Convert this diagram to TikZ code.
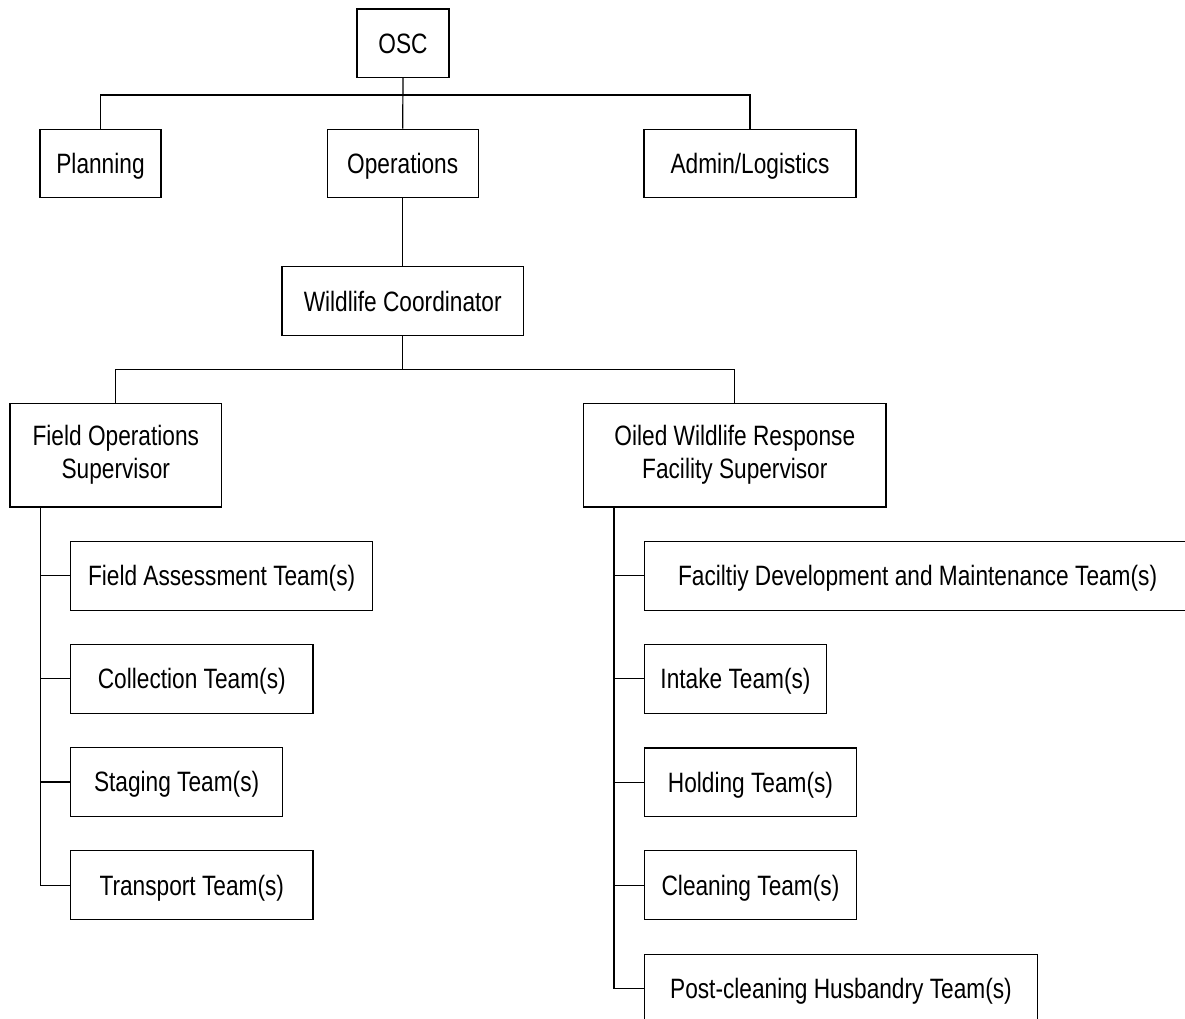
\documentclass[tikz,border=0pt]{standalone}
\usepackage{fontspec}
\setmainfont[FakeStretch=0.81]{Liberation Sans}
\usetikzlibrary{calc}
\begin{document}
\begin{tikzpicture}[x=1pt,y=-1pt,line width=1.2pt,
  box/.style={draw, rectangle, inner sep=0pt, minimum height=68.6pt,
    font=\fontsize{28}{33}\selectfont, text height=20pt, text depth=0pt},
  boxtwo/.style={draw, rectangle, inner sep=0pt, minimum height=103.5pt,
    align=center, font=\fontsize{28}{33}\selectfont},
  wire/.style={draw, line width=1.2pt}]
\useasboundingbox (0,0) rectangle (1185,1018);
\clip (0,0) rectangle (1185,1018);

% top level
\node[box, minimum width=92pt] (osc) at (403,43.3) {OSC};
\node[box, minimum width=121pt] (plan) at (100.5,163.5) {Planning};
\node[box, minimum width=151pt] (ops) at (402.7,163.5) {Operations};
\node[box, minimum width=212pt] (admin) at (750,163.5) {Admin/Logistics};
\node[box, minimum width=241.6pt] (wc) at (402.7,301) {Wildlife Coordinator};

% supervisors
\node[boxtwo, minimum width=211.7pt] (fos) at (115.8,455.2) {Field Operations\\Supervisor};
\node[boxtwo, minimum width=302.3pt] (owr) at (734.8,455.2) {Oiled Wildlife Response\\Facility Supervisor};

% field teams
\node[box, anchor=west, minimum width=302pt] (fat) at (70,575.8) {Field Assessment Team(s)};
\node[box, anchor=west, minimum width=242.3pt] (col) at (70,678.8) {Collection Team(s)};
\node[box, anchor=west, minimum width=212pt] (stg) at (70,781.9) {Staging Team(s)};
\node[box, anchor=west, minimum width=242.3pt] (trn) at (70,885.1) {Transport Team(s)};

% facility teams
\node[box, anchor=west, minimum width=546pt] (fdm) at (644,575.8) {Faciltiy Development and Maintenance Team(s)};
\node[box, anchor=west, minimum width=181.7pt] (itk) at (644,678.8) {Intake Team(s)};
\node[box, anchor=west, minimum width=211.7pt] (hld) at (644,782.2) {Holding Team(s)};
\node[box, anchor=west, minimum width=211.7pt] (cln) at (644,885.1) {Cleaning Team(s)};
\node[box, anchor=west, minimum width=392.7pt] (pch) at (644,988.4) {Post-cleaning Husbandry Team(s)};

% bus coordinates
\coordinate (bus1) at (403,95);
\coordinate (bus2) at (402.7,369.3);
\coordinate (lsp) at (40.7,507);
\coordinate (rsp) at (614,507);

% connectors
\path[wire] (osc.south) -- (ops.north);
\path[wire] (plan.north) |- (bus1) -| (admin.north);
\path[wire] (ops.south) -- (wc.north);
\path[wire] (wc.south) -- (bus2);
\path[wire] (fos.north) |- (bus2) -| (owr.north);

\path[wire] (lsp) |- (trn.west);
\path[wire] (fat.west) -- (fat.west -| lsp);
\path[wire] (col.west) -- (col.west -| lsp);
\path[wire] (stg.west) -- (stg.west -| lsp);

\path[wire] (rsp) |- (pch.west);
\path[wire] (fdm.west) -- (fdm.west -| rsp);
\path[wire] (itk.west) -- (itk.west -| rsp);
\path[wire] (hld.west) -- (hld.west -| rsp);
\path[wire] (cln.west) -- (cln.west -| rsp);
\end{tikzpicture}
\end{document}
